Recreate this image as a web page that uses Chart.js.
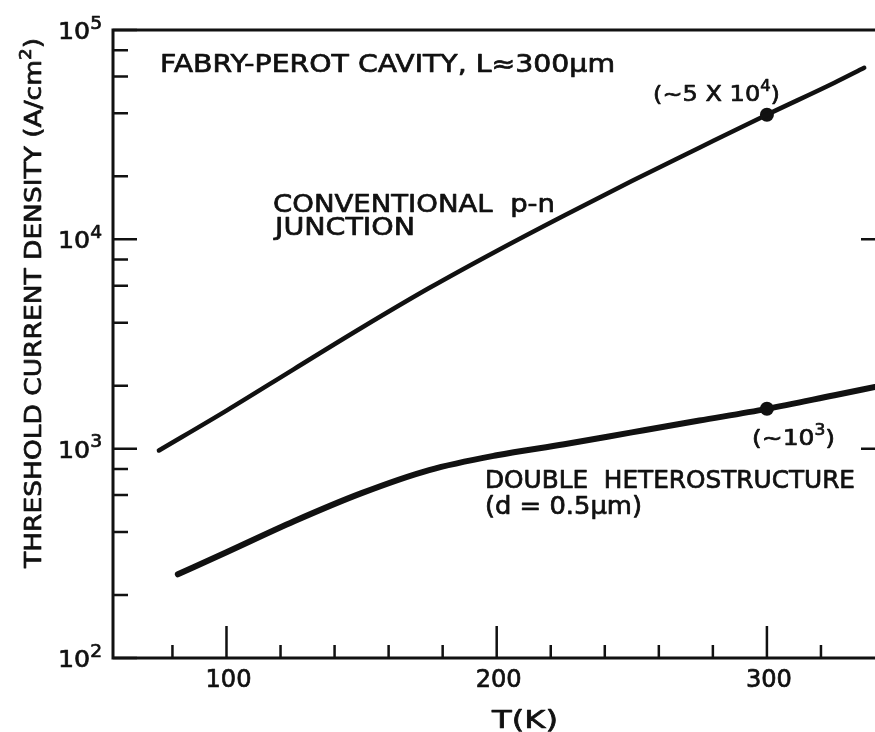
<!DOCTYPE html>
<html lang="en">
<head>
  <meta charset="UTF-8">
  <title>Threshold current density vs temperature</title>
  <style>
    body { margin: 0; background: #fff; }
    canvas { display: block; }
  </style>
</head>
<body>
  <canvas id="myChart" width="875" height="732"></canvas>

  <script src="https://cdn.jsdelivr.net/npm/chart.js"></script>
  <script>
    // temperature (K) and threshold current density (A/cm^2)
    const convT = [75, 100, 125, 150, 175, 200, 225, 250, 275, 300, 325, 336];
    const convJ = [980, 1520, 2400, 3780, 5850, 8800, 13000, 19000, 27400, 39400, 56000, 66000];
    const dhT = [82, 100, 125, 150, 175, 200, 225, 250, 275, 300, 325, 340];
    const dhJ = [251, 320, 450, 613, 790, 930, 1050, 1196, 1362, 1550, 1800, 1970];

    // the two marked room-temperature points
    const markT = [300, 300];
    const markJ = [39400, 1550];

    // ticks
    const xTicks = [80, 100, 120, 140, 160, 180, 200, 220, 240, 260, 280, 300, 320];
    const xMajor = [100, 200, 300];
    const yTicks = [100, 200, 400, 600, 800, 1000, 2000, 4000, 6000, 8000,
                    10000, 20000, 40000, 60000, 80000, 100000];
    const yMajor = [100, 1000, 10000, 100000];
    const yExponents = ['2', '3', '4', '5'];

    const ink = '#111';
    const FONT = '"DejaVu Sans", sans-serif';

    // draws text pieces, a piece starting with ^ is a superscript.
    // if width is given the whole thing is squeezed/stretched to it
    function drawRich(ctx, parts, x, y, size, width, align, supRatio) {
      const supSize = Math.round(size * (supRatio || 0.68));
      const fontOf = p => (p[0] === '^' ? supSize : size) + 'px ' + FONT;
      const txt = p => (p[0] === '^' ? p.slice(1) : p);
      let nat = 0;
      parts.forEach(p => { ctx.font = fontOf(p); nat += ctx.measureText(txt(p)).width; });
      const sx = width ? width / nat : 1;
      let left = x;
      if (align === 'center') left = x - nat * sx / 2;
      if (align === 'right') left = x - nat * sx;
      ctx.save();
      ctx.translate(left, y);
      ctx.scale(sx, 1);
      ctx.fillStyle = ink;
      ctx.strokeStyle = ink;
      ctx.lineWidth = 0.7;
      ctx.lineJoin = 'round';
      ctx.textBaseline = 'alphabetic';
      let cx = 0;
      parts.forEach(p => {
        ctx.font = fontOf(p);
        const dy = p[0] === '^' ? -size * 0.45 : 0;
        ctx.fillText(txt(p), cx, dy);
        ctx.strokeText(txt(p), cx, dy);
        cx += ctx.measureText(txt(p)).width;
      });
      ctx.restore();
    }

    const frame = {
      id: 'frame',
      afterDraw(chart) {
        const { ctx, chartArea: a, scales: { x, y } } = chart;
        ctx.save();
        ctx.strokeStyle = ink;
        ctx.lineWidth = 3;

        // axes and top border
        ctx.beginPath();
        ctx.moveTo(a.right, a.top);
        ctx.lineTo(a.left, a.top);
        ctx.lineTo(a.left, a.bottom);
        ctx.lineTo(a.right, a.bottom);
        ctx.stroke();

        // inward ticks
        ctx.lineWidth = 2.5;
        ctx.beginPath();
        x.ticks.forEach(t => {
          const px = x.getPixelForValue(t.value);
          const len = xMajor.includes(t.value) ? 32 : 13;
          ctx.moveTo(px, a.bottom);
          ctx.lineTo(px, a.bottom - len);
        });
        y.ticks.forEach(t => {
          const py = y.getPixelForValue(t.value);
          const len = yMajor.includes(t.value) ? 24 : 15;
          ctx.moveTo(a.left, py);
          ctx.lineTo(a.left + len, py);
        });
        // stubs on the right side
        [1000, 10000].forEach(v => {
          const py = y.getPixelForValue(v);
          ctx.moveTo(a.right, py);
          ctx.lineTo(a.right - 14, py);
        });
        ctx.stroke();

        // tick labels
        xMajor.forEach(v => {
          drawRich(ctx, [String(v)], x.getPixelForValue(v) + 2, 687, 25, 46, 'center');
        });
        yMajor.forEach((v, i) => {
          drawRich(ctx, ['10', '^' + yExponents[i]], 102, y.getPixelForValue(v) + 9, 23, 44, 'right', 0.75);
        });

        // axis titles
        drawRich(ctx, ['T(K)'], 492, 728, 25, 66);
        ctx.save();
        ctx.translate(41, 568);
        ctx.rotate(-Math.PI / 2);
        drawRich(ctx, ['THRESHOLD CURRENT DENSITY (A/cm', '^2', ')'], 0, 0, 23, 530);
        ctx.restore();

        // annotations
        drawRich(ctx, ['FABRY-PEROT CAVITY, L\u2248300\u03bcm'], 160, 72, 24, 455);
        drawRich(ctx, ['(~5 X 10', '^4', ')'], 653, 101, 22, 127);
        drawRich(ctx, ['CONVENTIONAL  p-n'], 273, 212, 25, 282);
        drawRich(ctx, ['JUNCTION'], 275, 235, 25, 140);
        drawRich(ctx, ['(~10', '^3', ')'], 752, 445, 22, 83);
        drawRich(ctx, ['DOUBLE  HETEROSTRUCTURE'], 485, 488, 24, 370);
        drawRich(ctx, ['(d = 0.5\u03bcm)'], 485, 514, 24, 157);

        ctx.restore();
      }
    };

    const toPoints = (xs, ys) => xs.map((t, i) => ({ x: t, y: ys[i] }));

    const ctx = document.getElementById('myChart').getContext('2d');
    new Chart(ctx, {
      type: 'line',
      data: {
        datasets: [
          {
            label: 'Conventional p-n junction',
            data: toPoints(convT, convJ),
            borderColor: ink,
            borderWidth: 4.5,
            pointRadius: 0,
            cubicInterpolationMode: 'monotone',
            borderCapStyle: 'round'
          },
          {
            label: 'Double heterostructure',
            data: toPoints(dhT, dhJ),
            borderColor: ink,
            borderWidth: 6,
            pointRadius: 0,
            cubicInterpolationMode: 'monotone',
            borderCapStyle: 'round'
          },
          {
            label: '300 K',
            data: toPoints(markT, markJ),
            showLine: false,
            pointRadius: 7,
            pointBackgroundColor: ink,
            pointBorderWidth: 0
          }
        ]
      },
      options: {
        responsive: false,
        animation: false,
        layout: { autoPadding: false, padding: { left: 113, top: 30, right: 0, bottom: 74 } },
        plugins: { legend: { display: false }, tooltip: { enabled: false } },
        scales: {
          x: {
            type: 'linear',
            min: 58,
            max: 340,
            display: false,
            afterBuildTicks: s => { s.ticks = xTicks.map(v => ({ value: v })); }
          },
          y: {
            type: 'logarithmic',
            min: 100,
            max: 100000,
            display: false,
            afterBuildTicks: s => { s.ticks = yTicks.map(v => ({ value: v })); }
          }
        }
      },
      plugins: [frame]
    });
  </script>
</body>
</html>
